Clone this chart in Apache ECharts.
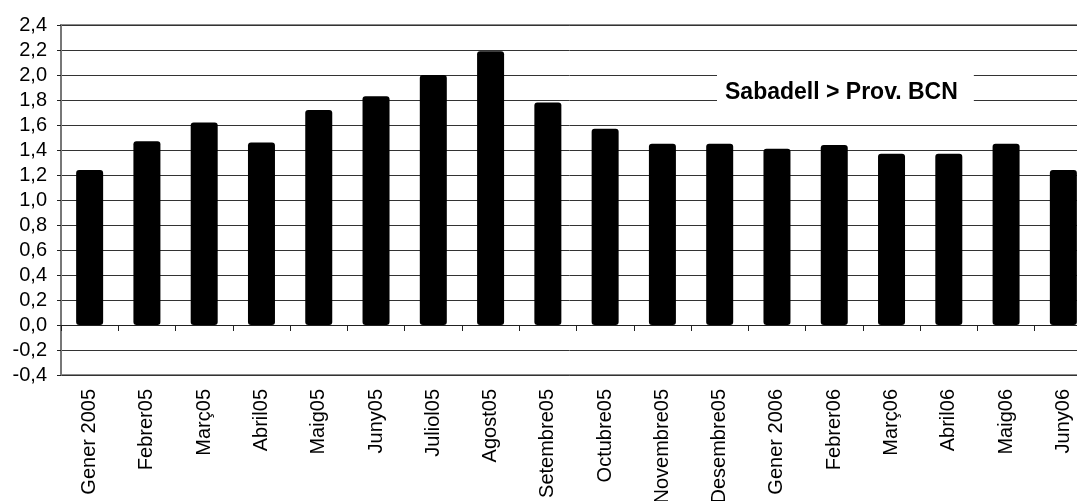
<!DOCTYPE html>
<html>
<head>
<meta charset="utf-8">
<script src="https://cdn.jsdelivr.net/npm/echarts@6/dist/echarts.min.js"></script>
<style>html,body{margin:0;padding:0;background:#fff}#c{width:1077px;height:501px}</style>
</head>
<body>
<div id="c"></div>
<script>
const categories = ['Gener 2005','Febrer05','Març05','Abril05','Maig05','Juny05','Juliol05','Agost05','Setembre05','Octubre05','Novembre05','Desembre05','Gener 2006','Febrer06','Març06','Abril06','Maig06','Juny06'];
const seriesName = 'Sabadell > Prov. BCN';
const values = [1.24,1.47,1.62,1.46,1.72,1.83,2.00,2.19,1.78,1.57,1.45,1.45,1.41,1.44,1.37,1.37,1.45,1.24];
const yMin = -0.4, yMax = 2.4, yStep = 0.2;

const chart = echarts.init(document.getElementById('c'), null, {renderer:'canvas'});
const FONT = '"Liberation Sans", Arial, sans-serif';
chart.setOption({
  animation: false,
  backgroundColor: '#fff',
  grid: {left: 61, top: 25, width: 1031, height: 350, outerBoundsMode: 'none', containLabel: false,
         show: true, borderColor: '#8a8a8a', borderWidth: 2, backgroundColor: 'transparent'},
  legend: {
    data: [{name: seriesName, icon: 'none'}],
    left: 717, top: 71, itemWidth: 0, itemHeight: 0, itemGap: 0,
    padding: [10, 16, 10, 3],
    backgroundColor: '#fff',
    selectedMode: false,
    textStyle: {fontFamily: FONT, fontSize: 23, fontWeight: 'bold', color: '#000'}
  },
  xAxis: [
    {type: 'category', data: categories, boundaryGap: true, position: 'bottom',
     axisLine: {onZero: true, lineStyle: {color: '#222', width: 1}},
     axisTick: {show: true, interval: 0, length: 6, lineStyle: {color: '#222'}},
     axisLabel: {show: false}, splitLine: {show: false}},
    {type: 'category', data: categories, boundaryGap: true, position: 'bottom',
     axisLine: {show: false, onZero: false}, axisTick: {show: false},
     axisLabel: {rotate: 90, margin: 14, fontFamily: FONT, fontSize: 20, color: '#000', interval: 0},
     splitLine: {show: false}}
  ],
  yAxis: {
    type: 'value', min: yMin, max: yMax, interval: yStep,
    axisLine: {show: true, lineStyle: {color: '#777', width: 2}},
    axisTick: {show: true, length: 4, lineStyle: {color: '#222'}},
    axisLabel: {margin: 14, fontFamily: FONT, fontSize: 20, color: '#000',
      formatter: v => v.toFixed(1).replace('.', ',')},
    splitLine: {show: true, lineStyle: {color: '#333', width: 1}}
  },
  series: [{
    name: seriesName, type: 'bar', data: values, xAxisIndex: 0,
    barWidth: 27,
    itemStyle: {color: '#000', borderRadius: 3}
  }]
});
</script>
</body>
</html>
